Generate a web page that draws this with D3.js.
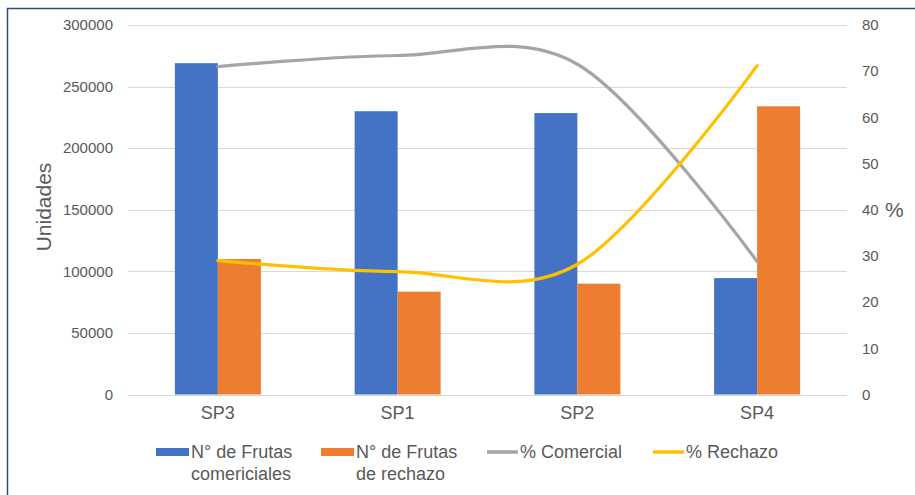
<!DOCTYPE html>
<html>
<head>
<meta charset="utf-8">
<script src="https://cdn.jsdelivr.net/npm/d3@7"></script>
<style>
  html, body { margin: 0; padding: 0; background: #fff; }
  svg { display: block; font-family: "Liberation Sans", Arial, sans-serif; }
</style>
</head>
<body>
<svg id="chart" width="915" height="495"></svg>
<script>
// Categories and series
const categories = ["SP3", "SP1", "SP2", "SP4"];
const frutasComerciales = [269000, 230000, 228500, 94500];
const frutasRechazo = [110000, 83500, 90000, 234000];
const pctComercial = [71.0, 73.4, 71.5, 28.8];
const pctRechazo = [29.0, 26.6, 28.2, 71.2];
const leftTicks = [0, 50000, 100000, 150000, 200000, 250000, 300000];
const rightTicks = [0, 10, 20, 30, 40, 50, 60, 70, 80];

const barSeries = [
  { key: "com", label: ["N° de Frutas", "comericiales"], values: frutasComerciales, color: "#4472C4" },
  { key: "rech", label: ["N° de Frutas", "de rechazo"], values: frutasRechazo, color: "#ED7D31" }
];
const lineSeries = [
  { key: "pc", label: "% Comercial", values: pctComercial, color: "#A5A5A5" },
  { key: "pr", label: "% Rechazo", values: pctRechazo, color: "#FFC000" }
];

const svg = d3.select("#chart");
const plot = { left: 128, right: 847, top: 25, bottom: 394.5 };
const textColor = "#595959";

// Outer frame
svg.append("rect")
  .attr("x", 7.5).attr("y", 8.5)
  .attr("width", 920).attr("height", 500)
  .attr("fill", "none")
  .attr("stroke", "#2F4B7C")
  .attr("stroke-width", 1.5);

const x0 = d3.scaleBand().domain(categories).range([plot.left, plot.right]).padding(0);
const x1 = d3.scaleBand().domain(barSeries.map(s => s.key))
  .range([0, x0.bandwidth()]).paddingInner(0).paddingOuter(1.09);
const yL = d3.scaleLinear().domain([0, 300000]).range([plot.bottom, plot.top]);
const yR = d3.scaleLinear().domain([0, 80]).range([plot.bottom, plot.top]);

// Gridlines
svg.append("g")
  .selectAll("line")
  .data(leftTicks)
  .join("line")
  .attr("x1", plot.left).attr("x2", plot.right)
  .attr("y1", d => Math.round(yL(d)) + 0.5)
  .attr("y2", d => Math.round(yL(d)) + 0.5)
  .attr("stroke", "#D9D9D9")
  .attr("stroke-width", 1.2);

// Left axis labels
svg.append("g")
  .selectAll("text")
  .data(leftTicks)
  .join("text")
  .attr("x", 113)
  .attr("y", d => yL(d))
  .attr("dy", "0.35em")
  .attr("text-anchor", "end")
  .attr("font-size", 15)
  .attr("fill", textColor)
  .text(d => d);

// Right axis labels
svg.append("g")
  .selectAll("text")
  .data(rightTicks)
  .join("text")
  .attr("x", 862)
  .attr("y", d => yR(d))
  .attr("dy", "0.35em")
  .attr("text-anchor", "start")
  .attr("font-size", 15)
  .attr("fill", textColor)
  .text(d => d);

// Axis titles
svg.append("text")
  .attr("transform", "translate(51,207) rotate(-90)")
  .attr("text-anchor", "middle")
  .attr("font-size", 21)
  .attr("fill", textColor)
  .text("Unidades");

svg.append("text")
  .attr("x", 885).attr("y", yR(40))
  .attr("dy", "0.35em")
  .attr("font-size", 21)
  .attr("fill", textColor)
  .text("%");

// Bars
const groups = svg.append("g")
  .selectAll("g")
  .data(categories)
  .join("g")
  .attr("transform", d => `translate(${x0(d)},0)`);

groups.selectAll("rect")
  .data((c, i) => barSeries.map(s => ({ key: s.key, value: s.values[i], color: s.color })))
  .join("rect")
  .attr("x", d => x1(d.key))
  .attr("width", x1.bandwidth())
  .attr("y", d => yL(d.value))
  .attr("height", d => yL(0) - yL(d.value))
  .attr("fill", d => d.color);

// Category labels
svg.append("g")
  .selectAll("text")
  .data(categories)
  .join("text")
  .attr("x", d => x0(d) + x0.bandwidth() / 2)
  .attr("y", 413)
  .attr("dy", "0.35em")
  .attr("text-anchor", "middle")
  .attr("font-size", 18)
  .attr("fill", textColor)
  .text(d => d);

// Smoothed percentage lines
const line = d3.line()
  .x((d, i) => x0(categories[i]) + x0.bandwidth() / 2)
  .y(d => yR(d))
  .curve(d3.curveCatmullRom.alpha(0));

svg.append("g")
  .selectAll("path")
  .data(lineSeries)
  .join("path")
  .attr("d", s => line(s.values))
  .attr("fill", "none")
  .attr("stroke", s => s.color)
  .attr("stroke-width", 3.2)
  .attr("stroke-linecap", "round");

// Legend
const legend = svg.append("g").attr("font-size", 18).attr("fill", textColor);
const legendRow1 = 452;
const legendRow2 = 474;
const barLegendX = [156, 321];
barSeries.forEach((s, i) => {
  legend.append("rect")
    .attr("x", barLegendX[i]).attr("y", legendRow1 - 4)
    .attr("width", 33).attr("height", 8)
    .attr("fill", s.color);
  legend.append("text")
    .attr("x", barLegendX[i] + 35).attr("y", legendRow1)
    .attr("dy", "0.35em")
    .text(s.label[0]);
  legend.append("text")
    .attr("x", barLegendX[i] + 35).attr("y", legendRow2)
    .attr("dy", "0.35em")
    .text(s.label[1]);
});
const lineLegendX = [487, 653];
lineSeries.forEach((s, i) => {
  legend.append("line")
    .attr("x1", lineLegendX[i]).attr("x2", lineLegendX[i] + 31)
    .attr("y1", legendRow1).attr("y2", legendRow1)
    .attr("stroke", s.color)
    .attr("stroke-width", 3.5);
  legend.append("text")
    .attr("x", lineLegendX[i] + 33).attr("y", legendRow1)
    .attr("dy", "0.35em")
    .text(s.label);
});
</script>
</body>
</html>
